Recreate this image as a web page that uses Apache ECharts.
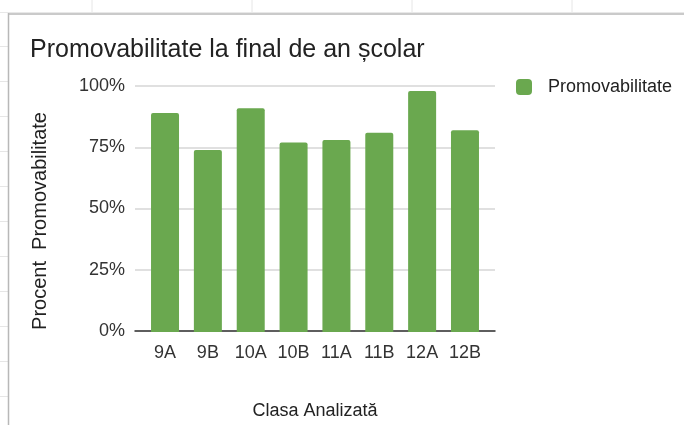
<!DOCTYPE html>
<html>
<head>
<meta charset="utf-8">
<title>Promovabilitate</title>
<script src="https://cdn.jsdelivr.net/npm/echarts@6/dist/echarts.min.js"></script>
<style>
  html, body { margin: 0; padding: 0; background: #fff; }
  #chart { width: 684px; height: 425px; }
</style>
</head>
<body>
<div id="chart"></div>
<script>
// date
const clase = ['9A', '9B', '10A', '10B', '11A', '11B', '12A', '12B']
const promovabilitate = [0.89, 0.74, 0.91, 0.77, 0.78, 0.81, 0.98, 0.82]
const etichetePprocent = ['0%', '25%', '50%', '75%', '100%']

const FONT = '"Liberation Sans", Arial, sans-serif'
const VERDE = '#6aa84f'

// liniile foii de calcul din spatele graficului (decor)
const foaieLinii = []
;[92, 252, 412, 572].forEach(x => {
  foaieLinii.push({ type: 'line', shape: { x1: x, y1: 0, x2: x, y2: 12 }, style: { stroke: '#e6e6e6', lineWidth: 1 }, silent: true })
})
for (let y = 46.5; y < 425; y += 35) {
  foaieLinii.push({ type: 'line', shape: { x1: 0, y1: y, x2: 8, y2: y }, style: { stroke: '#e6e6e6', lineWidth: 1 }, silent: true })
}

const chart = echarts.init(document.getElementById('chart'), null, { renderer: 'canvas' })

const option = {
  backgroundColor: '#fff',
  animation: false,
  textStyle: { fontFamily: FONT },
  title: {
    text: 'Promovabilitate la final de an școlar',
    left: 25,
    top: 33,
    textStyle: { fontFamily: FONT, fontSize: 25, fontWeight: 'normal', color: '#222' }
  },
  legend: {
    left: 511,
    top: 73,
    icon: 'roundRect',
    itemWidth: 16,
    itemHeight: 16,
    textStyle: { fontFamily: FONT, fontSize: 18, color: '#222', padding: [0, 0, 0, 11] },
    data: ['Promovabilitate']
  },
  grid: [
    // grila cu liniile orizontale
    { left: 135, right: 189, top: 86, bottom: 93 },
    // zona barelor, putin mai ingusta
    { left: 143.6, right: 197.6, top: 86, bottom: 93 }
  ],
  xAxis: [
    {
      type: 'category',
      gridIndex: 0,
      data: clase,
      name: 'Clasa Analizată',
      nameLocation: 'middle',
      nameGap: 71,
      nameTextStyle: { fontFamily: FONT, fontSize: 18, color: '#222' },
      axisLine: { show: true, lineStyle: { color: '#333', width: 1.5 } },
      axisTick: { show: false },
      axisLabel: { show: false }
    },
    {
      type: 'category',
      gridIndex: 1,
      data: clase,
      axisLine: { show: false },
      axisTick: { show: false },
      axisLabel: { fontFamily: FONT, fontSize: 18, color: '#333', margin: 12 }
    }
  ],
  yAxis: [
    {
      type: 'value',
      gridIndex: 0,
      min: 0,
      max: 1,
      interval: 0.25,
      axisLine: { show: false },
      axisTick: { show: false },
      splitLine: { lineStyle: { color: '#d6d6d6', width: 1.5 } },
      axisLabel: {
        fontFamily: FONT,
        fontSize: 18,
        color: '#333',
        margin: 10,
        formatter: (v) => etichetePprocent[Math.round(v / 0.25)]
      }
    },
    {
      type: 'value',
      gridIndex: 1,
      min: 0,
      max: 1,
      interval: 0.25,
      show: false,
      splitLine: { show: false }
    }
  ],
  series: [
    {
      name: 'Promovabilitate',
      type: 'bar',
      xAxisIndex: 1,
      yAxisIndex: 1,
      barWidth: 28,
      data: promovabilitate,
      itemStyle: { color: VERDE, borderRadius: [2, 2, 0, 0] }
    }
  ],
  graphic: [
    ...foaieLinii,
    // chenarul graficului
    { type: 'line', shape: { x1: 0, y1: 12.5, x2: 684, y2: 12.5 }, style: { stroke: '#e8e8e8', lineWidth: 1 }, silent: true },
    { type: 'line', shape: { x1: 8.5, y1: 14, x2: 684, y2: 14 }, style: { stroke: '#b8b8b8', lineWidth: 1.5 }, silent: true },
    { type: 'line', shape: { x1: 8.5, y1: 13, x2: 8.5, y2: 425 }, style: { stroke: '#b8b8b8', lineWidth: 1.5 }, silent: true },
    {
      type: 'text',
      x: 40,
      y: 221,
      rotation: Math.PI / 2,
      silent: true,
      style: {
        text: 'Procent  Promovabilitate',
        fontFamily: FONT,
        fontSize: 20,
        fill: '#222',
        textAlign: 'center',
        textVerticalAlign: 'middle'
      }
    }
  ]
}

chart.setOption(option)
window.addEventListener('resize', () => chart.resize())
</script>
</body>
</html>
